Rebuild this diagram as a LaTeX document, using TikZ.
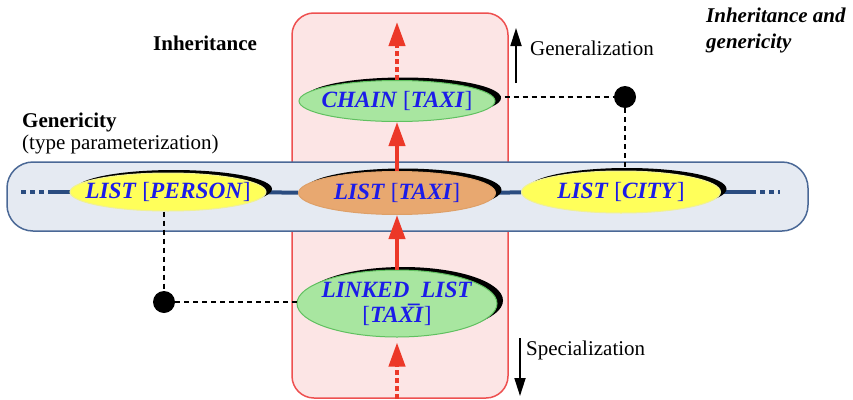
\documentclass[tikz,border=0pt]{standalone}
\usepackage{fontspec}
\setmainfont{Liberation Serif}
\usetikzlibrary{shapes.geometric,arrows.meta,shadows}
\pgfdeclarelayer{boxes}
\pgfdeclarelayer{lines}
\pgfsetlayers{boxes,lines,main}
\definecolor{redfill}{RGB}{252,229,229}
\definecolor{reddraw}{RGB}{238,80,80}
\definecolor{bandfill}{RGB}{229,234,242}
\definecolor{banddraw}{RGB}{74,104,150}
\definecolor{bline}{RGB}{42,76,128}
\definecolor{arrred}{RGB}{236,56,40}
\definecolor{lblue}{RGB}{28,28,232}
\definecolor{yfill}{RGB}{255,255,90}
\definecolor{ydraw}{RGB}{240,240,150}
\definecolor{ofill}{RGB}{232,168,112}
\definecolor{odraw}{RGB}{222,160,104}
\definecolor{gfill}{RGB}{168,230,160}
\definecolor{gdraw}{RGB}{96,192,96}
\newcommand{\clsname}[2]{\textbf{\textit{#1}} [\textbf{\textit{#2}}]}
\begin{document}
\begin{tikzpicture}[x=1pt,y=-1pt,
  ell/.style={ellipse, inner sep=0pt, line width=1pt,
    general shadow={fill=black, shadow xshift=6pt, shadow yshift=3pt}},
  ellbl/.style={font=\fontsize{23.3}{25}\selectfont, text=lblue, align=center, inner sep=0pt},
  yell/.style={ell, fill=yfill, draw=ydraw},
  oell/.style={ell, fill=ofill, draw=odraw},
  gell/.style={ell, fill=gfill, draw=gdraw},
  redbox/.style={rectangle, rounded corners=22pt, fill=redfill, draw=reddraw, line width=1.5pt, inner sep=0pt},
  bandbox/.style={rectangle, rounded corners=26pt, fill=bandfill, draw=banddraw, line width=1.5pt, inner sep=0pt},
  blueline/.style={draw=bline, line width=4pt},
  redarrow/.style={draw=arrred, line width=4pt, -{Triangle[width=16pt,length=24pt]}},
  reddash/.style={redarrow, dash pattern=on 5pt off 3pt},
  blackarrow/.style={draw=black, line width=1.8pt, -{Triangle[width=11pt,length=18pt]}},
  conn/.style={draw=black, line width=1.3pt, dash pattern=on 5pt off 4pt},
  dot/.style={circle, fill=black, minimum size=22pt, inner sep=0pt},
  txt/.style={font=\fontsize{21}{22}\selectfont, inner sep=0pt}
]
\useasboundingbox (0,0) rectangle (853,399);

% background boxes
\begin{pgfonlayer}{boxes}
\node[redbox, minimum width=216pt, minimum height=385pt] (inhbox) at (400,205.5) {};
\node[bandbox, minimum width=801pt, minimum height=69pt] (band) at (407.5,196.5) {};
\end{pgfonlayer}

% class nodes
\node[gell, minimum width=196pt, minimum height=41pt,
  label={[ellbl]center:\clsname{CHAIN}{TAXI}}] (chain) at (397,101) {};
\node[yell, minimum width=196pt, minimum height=38pt,
  label={[ellbl]center:\clsname{LIST}{PERSON}}] (person) at (168,192) {};
\node[oell, minimum width=197pt, minimum height=43pt,
  label={[ellbl]center:\clsname{LIST}{TAXI}}] (taxi) at (397,193) {};
\node[yell, minimum width=199pt, minimum height=42pt,
  label={[ellbl]center:\clsname{LIST}{CITY}}] (city) at (621,192) {};
\node[gell, minimum width=200pt, minimum height=67pt,
  label={[ellbl]center:\textbf{\textit{LINKED\raisebox{-5pt}{\_}LIST}}\\{[}\textbf{\textit{TAXI}}{]}}] (linked) at (397,303.5) {};

% dots
\node[dot] (d1) at (625,97) {};
\node[dot] (d2) at (164,302) {};

% free ends
\coordinate (topend) at (397,22);
\coordinate (botend) at (397,399);
\coordinate (bl0) at (21,192);
\coordinate (bl1) at (52,192);
\coordinate (br1) at (751,192);
\coordinate (br0) at (780,192);
\coordinate (g0) at (516,83);
\coordinate (g1) at (516,28);
\coordinate (s0) at (520,338);
\coordinate (s1) at (520,396);

\begin{pgfonlayer}{lines}
\draw[blueline, dash pattern=on 5pt off 4pt] (bl0) -- (bl1);
\draw[blueline] (bl1) -- (person);
\draw[blueline] (person) -- (taxi);
\draw[blueline] (taxi) -- (city);
\draw[blueline] (city) -- (br1);
\draw[blueline, dash pattern=on 5pt off 4pt] (br1) -- (br0);
\end{pgfonlayer}

% inheritance arrows
\draw[reddash] (chain.north) -- (topend);
\draw[redarrow] (taxi.north) -- (chain.south);
\draw[redarrow] (linked.north) -- (taxi.south);
\draw[reddash, shorten >=5pt] (botend) -- (linked.south);

% generic derivation links
\draw[conn] (d1 -| chain.east) -- (d1);
\draw[conn] (d1) -- (d1 |- city.north);
\draw[conn] (d2 |- person.south) -- (d2);
\draw[conn] (d2) -- (d2 -| linked.west);

% direction arrows
\draw[blackarrow] (g0) -- (g1);
\draw[blackarrow] (s0) -- (s1);

% texts
\node[txt, anchor=base west] (gen) at (530,55) {Generalization};
\node[txt, anchor=base west] (spec) at (526,355) {Specialization};
\node[txt, anchor=base west, font=\fontsize{21}{22}\selectfont\bfseries] (inh) at (153,50) {Inheritance};
\node[txt, anchor=base west, align=left, font=\fontsize{21}{26}\selectfont\bfseries\itshape] (inhgen) at (706,48) {Inheritance and\\genericity};
\node[txt, anchor=base west, align=left, font=\fontsize{21}{22}\selectfont] (genty) at (22,149) {\textbf{Genericity}\\(type parameterization)};
\end{tikzpicture}
\end{document}
